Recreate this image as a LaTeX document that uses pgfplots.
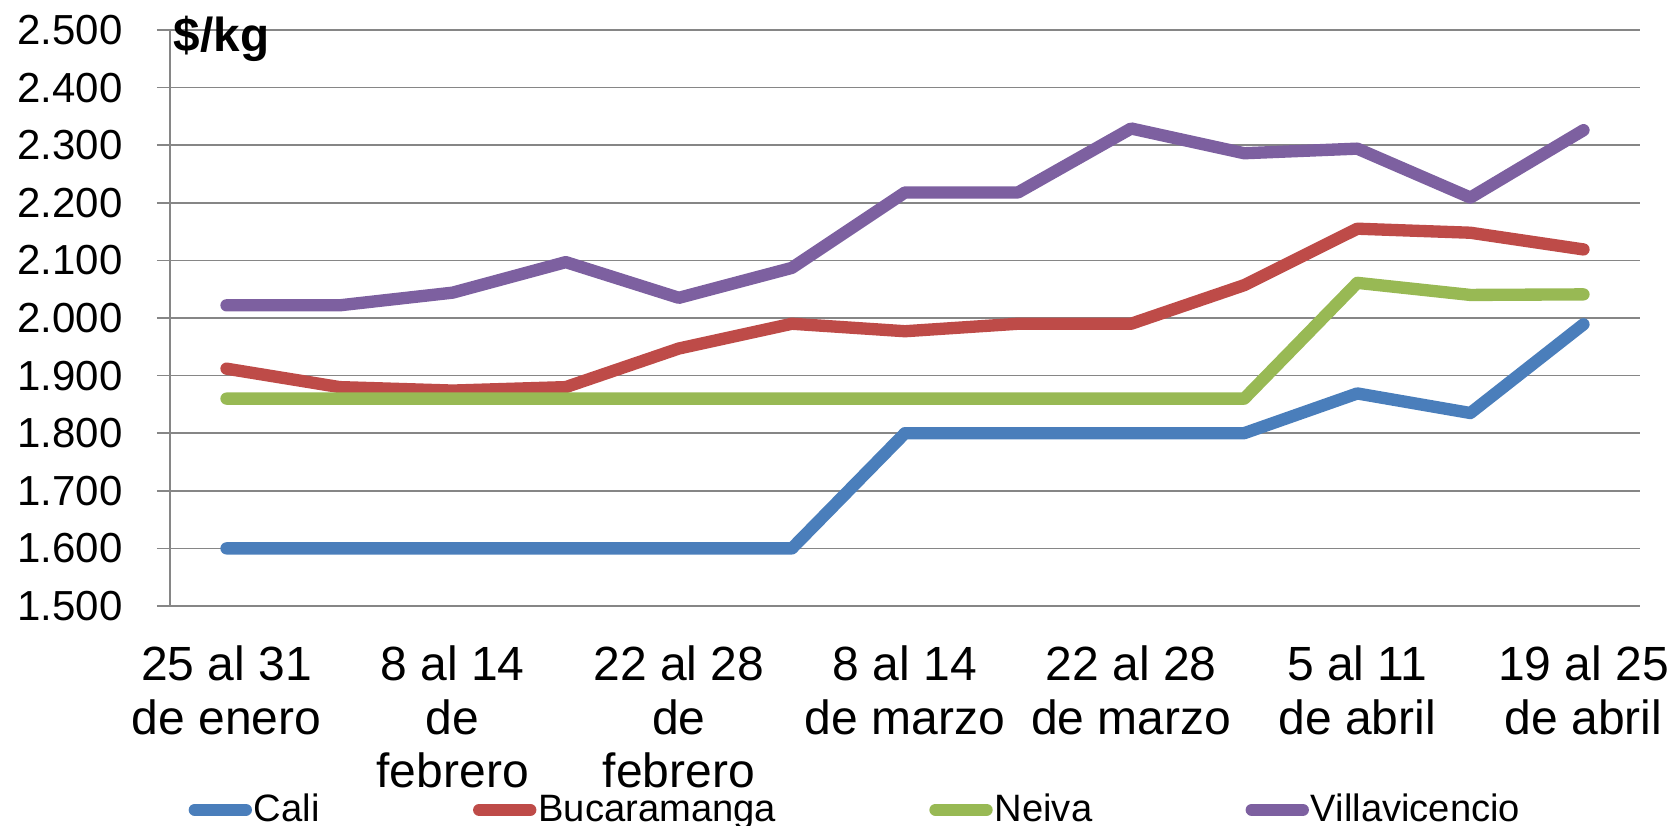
\documentclass[border=0pt]{standalone}
\usepackage{pgfplots}
\pgfplotsset{compat=1.18}
\usepackage{fontspec}
\setmainfont{Liberation Sans}
\definecolor{cali}{HTML}{4A7EBB}
\definecolor{buca}{HTML}{BE4B48}
\definecolor{neiva}{HTML}{98B954}
\definecolor{villa}{HTML}{7D60A0}
\definecolor{gridc}{HTML}{868686}
\begin{document}
\begin{tikzpicture}
\begin{axis}[
  scale only axis, width=441pt, height=172.8pt,
  at={(0,0)}, anchor=south west,
  xmin=-0.5, xmax=12.5, ymin=1500, ymax=2500,
  ytick={1500,1600,...,2500},
  xtick={0,2,4,6,8,10,12},
  xticklabels={25 al 31\\de enero, 8 al 14\\de\\febrero, 22 al 28\\de\\febrero, 8 al 14\\de marzo, 22 al 28\\de marzo, 5 al 11\\de abril, 19 al 25\\de abril},
  axis lines*=left,
  axis line style={gridc, line width=0.6pt, -},
  ymajorgrids, grid style={gridc, line width=0.5pt},
  tick align=outside, tick pos=left,
  major tick length=3.9pt,
  y tick style={gridc, line width=0.5pt},
  x tick style={draw=none},
  /pgf/number format/assume math mode=true,
  yticklabel style={/pgf/number format/.cd, fixed, precision=0, 1000 sep={.}, /tikz/.cd,
    anchor=east, inner sep=0pt, xshift=-10.1pt, font=\fontsize{12.6}{15}\selectfont},
  xticklabel style={anchor=north, inner sep=0pt, yshift=-7.8pt, align=center,
    font=\fontsize{14.4}{16.1}\selectfont},
  clip=false,
  legend columns=4,
  legend style={at={(axis description cs:0.0127,-0.355)}, anchor=west,
    draw=none, fill=none, inner sep=0pt, outer sep=0pt,
    font=\fontsize{11.45}{13}\selectfont,
    nodes={inner sep=0pt, anchor=base west},
    /tikz/every odd column/.append style={column sep=0.6pt},
    /tikz/every even column/.append style={column sep=46pt}},
  legend image code/.code={\draw[#1, line cap=round] (0pt,3.6pt) -- (15.3pt,3.6pt);},
  every axis plot/.append style={line width=3.7pt, line join=round, line cap=round},
]
\addplot[cali] coordinates {(0,1600)(1,1600)(2,1600)(3,1600)(4,1600)(5,1600)(6,1800)(7,1800)(8,1800)(9,1800)(10,1869)(11,1835)(12,1989)};
\addplot[buca] coordinates {(0,1912)(1,1880)(2,1874)(3,1880)(4,1947)(5,1990)(6,1977)(7,1990)(8,1990)(9,2057)(10,2155)(11,2148)(12,2119)};
\addplot[neiva] coordinates {(0,1860)(1,1860)(2,1860)(3,1860)(4,1860)(5,1860)(6,1860)(7,1860)(8,1860)(9,1860)(10,2061)(11,2040)(12,2041)};
\addplot[villa] coordinates {(0,2022)(1,2022)(2,2044)(3,2097)(4,2035)(5,2087)(6,2218)(7,2218)(8,2329)(9,2286)(10,2294)(11,2209)(12,2326)};
\legend{Cali, Bucaramanga, Neiva, Villavicencio}
\node[anchor=base west, inner sep=0pt, font=\bfseries\fontsize{14.3}{16}\selectfont] at (rel axis cs:0,1) [xshift=1pt, yshift=-6.6pt] {\$/kg};
\end{axis}
\pgfresetboundingbox
\useasboundingbox (-51pt,-66pt) rectangle (450pt,181.8pt);
\end{tikzpicture}
\end{document}
